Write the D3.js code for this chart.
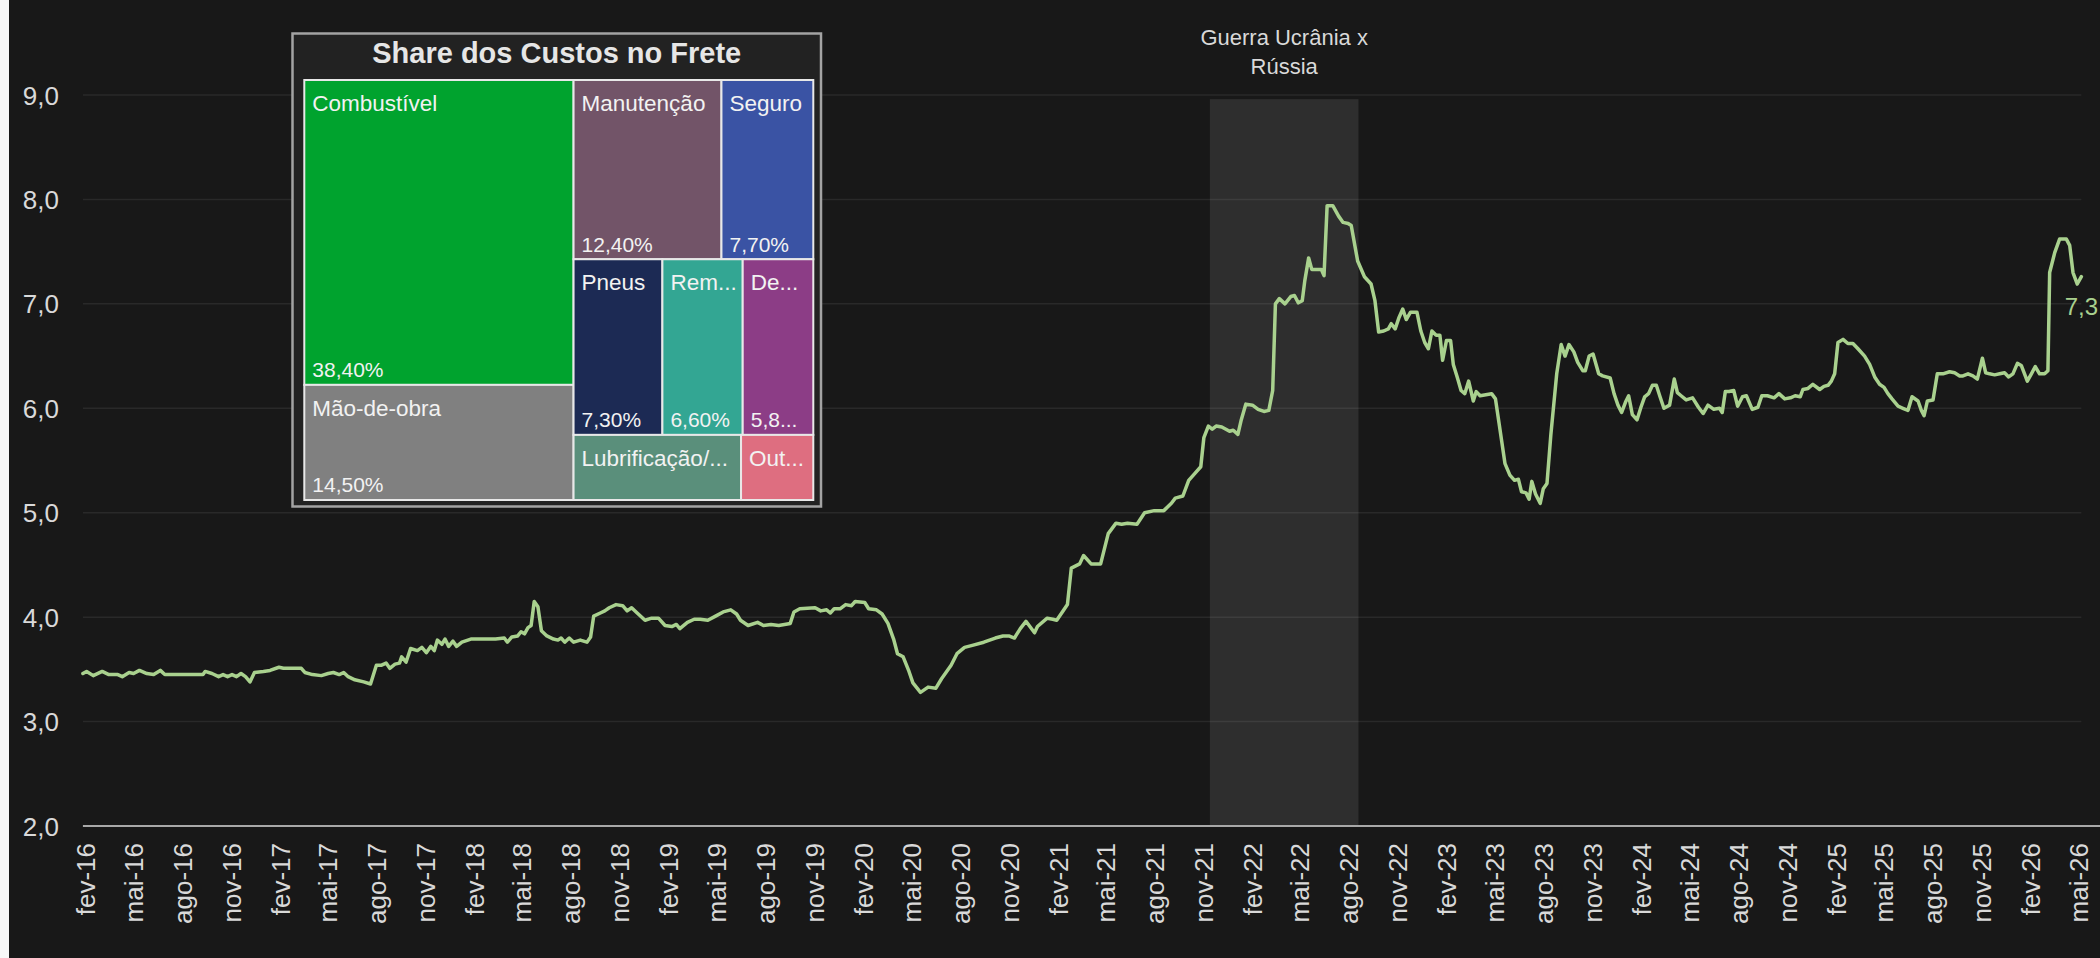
<!DOCTYPE html>
<html><head><meta charset="utf-8">
<script src="https://cdn.jsdelivr.net/npm/d3@7"></script>
<style>html,body{margin:0;padding:0;background:#181818;}svg{display:block;}</style>
</head><body><svg id="c" width="2100" height="958"></svg>
<script>
// ---------- DATA ----------
// dates as decimal years, values of the freight cost index
const dataYears = [
2016.074,2016.093,2016.127,2016.173,2016.207,2016.253,2016.276,2016.311,2016.334,2016.364,2016.402,2016.437,2016.471,2016.494,2016.600,2016.690,2016.701,2016.736,2016.770,2016.793,2016.816,2016.839,2016.862,2016.885,2016.908,2016.931,2016.954,
2017.000,2017.034,2017.080,2017.103,2017.195,2017.213,2017.252,2017.298,2017.333,2017.360,2017.390,2017.413,2017.436,2017.470,2017.516,2017.551,2017.581,2017.608,2017.631,2017.650,2017.677,2017.700,2017.711,2017.734,2017.757,2017.792,2017.815,2017.838,2017.861,2017.879,2017.895,2017.918,2017.934,2017.953,2017.975,2017.994,
2018.021,2018.067,2018.090,2018.159,2018.194,2018.239,2018.255,2018.278,2018.308,2018.325,2018.343,2018.361,2018.377,2018.393,2018.412,2018.430,2018.458,2018.492,2018.515,2018.531,2018.550,2018.573,2018.596,2018.630,2018.664,2018.683,2018.699,2018.733,2018.756,2018.779,2018.814,2018.848,2018.871,2018.894,2018.917,2018.963,2018.997,
2019.032,2019.066,2019.101,2019.124,2019.142,2019.181,2019.216,2019.247,2019.286,2019.326,2019.365,2019.404,2019.434,2019.454,2019.493,2019.542,2019.572,2019.611,2019.651,2019.710,2019.729,2019.759,2019.838,2019.867,2019.897,2019.916,2019.936,2019.966,2019.995,
2020.025,2020.044,2020.093,2020.113,2020.153,2020.182,2020.212,2020.241,2020.261,2020.290,2020.320,2020.340,2020.379,2020.418,2020.458,2020.487,2020.536,2020.566,2020.605,2020.645,2020.704,2020.763,2020.802,2020.832,2020.861,2020.891,2020.920,2020.964,2020.979,
2021.029,2021.058,2021.078,2021.107,2021.133,2021.153,2021.196,2021.216,2021.255,2021.304,2021.343,2021.383,2021.412,2021.442,2021.491,2021.530,2021.580,2021.629,2021.668,2021.688,2021.727,2021.757,2021.790,2021.819,2021.835,2021.858,2021.878,2021.898,2021.927,2021.967,2021.986,
2022.010,2022.026,2022.051,2022.085,2022.114,2022.144,2022.169,2022.189,2022.203,2022.223,2022.252,2022.282,2022.301,2022.321,2022.341,2022.354,2022.374,2022.390,2022.419,2022.439,2022.453,2022.469,2022.498,2022.528,2022.551,2022.577,2022.593,2022.626,2022.661,2022.695,2022.715,2022.734,2022.760,2022.784,2022.799,2022.819,2022.839,2022.858,2022.876,2022.898,2022.931,2022.951,2022.971,2022.990,
2023.008,2023.030,2023.049,2023.063,2023.083,2023.104,2023.118,2023.138,2023.158,2023.177,2023.197,2023.221,2023.236,2023.256,2023.315,2023.335,2023.354,2023.384,2023.409,2023.433,2023.453,2023.469,2023.492,2023.508,2023.522,2023.541,2023.565,2023.581,2023.600,2023.620,2023.650,2023.673,2023.693,2023.713,2023.738,2023.758,2023.784,2023.797,2023.817,2023.837,2023.866,2023.886,2023.925,2023.945,2023.965,2023.984,
2024.004,2024.020,2024.039,2024.063,2024.083,2024.102,2024.122,2024.142,2024.162,2024.181,2024.201,2024.230,2024.254,2024.270,2024.289,2024.315,2024.348,2024.378,2024.402,2024.427,2024.457,2024.486,2024.500,2024.516,2024.535,2024.559,2024.579,2024.604,2024.624,2024.654,2024.683,2024.703,2024.732,2024.766,2024.791,2024.821,2024.850,2024.874,2024.900,2024.914,2024.940,2024.965,
2025.000,2025.022,2025.043,2025.060,2025.077,2025.094,2025.120,2025.145,2025.171,2025.197,2025.231,2025.257,2025.283,2025.308,2025.331,2025.351,2025.372,2025.403,2025.428,2025.454,2025.475,2025.506,2025.523,2025.537,2025.554,2025.583,2025.605,2025.634,2025.668,2025.694,2025.720,2025.737,2025.763,2025.788,2025.811,2025.837,2025.854,2025.874,2025.900,2025.926,2025.951,2025.972,2025.994,
2026.017,2026.037,2026.068,2026.089,2026.109,2026.131,2026.157,2026.174,2026.183,2026.209,2026.234,2026.269,2026.286,2026.303,2026.325,2026.346
];
const dataValues = [
3.46,3.48,3.44,3.48,3.45,3.45,3.43,3.47,3.46,3.49,3.46,3.45,3.49,3.45,3.45,3.45,3.48,3.46,3.43,3.45,3.43,3.45,3.43,3.46,3.43,3.38,3.47,
3.48,3.49,3.52,3.51,3.51,3.47,3.45,3.44,3.46,3.47,3.45,3.47,3.43,3.40,3.38,3.36,3.54,3.54,3.56,3.51,3.55,3.56,3.62,3.57,3.70,3.68,3.71,3.66,3.72,3.68,3.78,3.74,3.79,3.72,3.77,3.72,
3.76,3.79,3.79,3.79,3.79,3.80,3.76,3.81,3.82,3.86,3.84,3.90,3.92,4.15,4.10,3.87,3.82,3.79,3.78,3.80,3.76,3.80,3.76,3.78,3.76,3.81,4.01,4.04,4.06,4.09,4.12,4.11,4.06,4.09,4.05,3.97,3.99,
3.99,3.92,3.91,3.93,3.89,3.95,3.98,3.98,3.97,4.01,4.05,4.07,4.03,3.97,3.92,3.95,3.92,3.93,3.92,3.94,4.05,4.08,4.09,4.06,4.07,4.04,4.08,4.08,4.12,
4.11,4.15,4.14,4.08,4.07,4.03,3.94,3.79,3.65,3.62,3.48,3.37,3.28,3.33,3.32,3.41,3.54,3.65,3.71,3.73,3.76,3.80,3.82,3.82,3.80,3.89,3.96,3.85,3.91,
3.99,3.98,3.97,4.05,4.12,4.47,4.51,4.59,4.51,4.51,4.80,4.90,4.89,4.90,4.89,5.00,5.02,5.02,5.09,5.14,5.16,5.31,5.38,5.44,5.72,5.83,5.80,5.83,5.82,5.78,5.79,
5.75,5.88,6.04,6.03,5.99,5.97,5.98,6.17,7.00,7.05,7.00,7.07,7.08,7.01,7.03,7.22,7.44,7.33,7.33,7.33,7.27,7.94,7.94,7.84,7.78,7.77,7.75,7.41,7.26,7.19,7.03,6.73,6.74,6.76,6.81,6.76,6.87,6.95,6.85,6.92,6.92,6.74,6.63,6.57,
6.74,6.70,6.70,6.46,6.65,6.65,6.42,6.30,6.17,6.14,6.26,6.07,6.16,6.12,6.14,6.09,5.85,5.47,5.36,5.31,5.32,5.20,5.19,5.13,5.30,5.18,5.09,5.23,5.28,5.75,6.33,6.61,6.50,6.61,6.54,6.44,6.36,6.36,6.50,6.52,6.33,6.31,6.29,6.14,6.03,5.96,
6.06,6.12,5.94,5.89,6.01,6.11,6.14,6.22,6.22,6.11,6.00,6.03,6.28,6.15,6.12,6.08,6.10,6.01,5.95,6.03,5.99,6.00,5.96,6.16,6.16,6.17,6.02,6.11,6.12,5.99,6.01,6.12,6.12,6.10,6.14,6.09,6.10,6.12,6.11,6.18,6.19,6.23,
6.18,6.21,6.22,6.26,6.33,6.63,6.66,6.62,6.62,6.57,6.50,6.42,6.30,6.23,6.20,6.14,6.09,6.02,6.00,5.98,6.11,6.07,5.98,5.93,6.07,6.08,6.33,6.33,6.35,6.34,6.31,6.31,6.33,6.31,6.28,6.48,6.34,6.33,6.32,6.33,6.34,6.30,6.33,
6.43,6.41,6.26,6.33,6.40,6.33,6.33,6.36,7.30,7.49,7.62,7.62,7.56,7.30,7.19,7.26
];

const yTicks = [2, 3, 4, 5, 6, 7, 8, 9];
const monthAbbr = ["jan","fev","mar","abr","mai","jun","jul","ago","set","out","nov","dez"];
const firstTick = "2016-02-01", lastTick = "2026-05-01", tickStepMonths = 3;

const bandStart = "2021-11-13", bandEnd = "2022-08-19", bandTopValue = 8.96;
const annotationLines = ["Guerra Ucrânia x", "Rússia"];

const treemapTitle = "Share dos Custos no Frete";
const costNames  = ["Combustível","Mão-de-obra","Manutenção","Seguro","Pneus","Remuneração","Depreciação","Lubrificação/Lavagem","Outros"];
const costShares = [38.4, 14.5, 12.4, 7.7, 7.3, 6.6, 5.8, 5.1, 2.2];
const costColors = ["#00a32e","#808080","#725468","#3a53a4","#1c2a54","#33a693","#8c3d86","#5a8f7b","#de6e80"];
// tiling groups: number of cells per strip and strip direction
const treemapRows = [2, 2, 3, 2];
const treemapRowDirs = ["column", "row", "row", "row"];

// ---------- SETUP ----------
const W = 2100, H = 958;
const svg = d3.select("#c");
const FONT = "'Liberation Sans', Arial, Helvetica, sans-serif";
const txt = "#d9d9d9";
const lineColor = "#a9d18e";
const parse = d3.timeParse("%Y-%m-%d");
const loc = d3.formatLocale({decimal: ",", thousands: ".", grouping: [3], currency: ["R$", ""]});
const f1 = loc.format(".1f"), f2 = loc.format(".2f");

function yearToDate(t) {
  const Y = Math.floor(t), fr = t - Y;
  const a = new Date(Y, 0, 1).getTime(), b = new Date(Y + 1, 0, 1).getTime();
  return new Date(a + fr * (b - a));
}
const series = dataYears.map((t, i) => ({date: yearToDate(t), value: dataValues[i]}));

const x = d3.scaleTime().domain([parse(firstTick), parse(lastTick)]).range([85, 2078]);
const y = d3.scaleLinear().domain([2, 9]).range([826, 95]);
const xLeft = x(series[0].date), xGridRight = x(series[series.length - 1].date);

svg.append("rect").attr("width", W).attr("height", H).attr("fill", "#181818");
svg.append("rect").attr("width", 9).attr("height", H).attr("fill", "#f7f7f7");

// band
svg.append("rect")
  .attr("x", x(parse(bandStart))).attr("width", x(parse(bandEnd)) - x(parse(bandStart)))
  .attr("y", y(bandTopValue)).attr("height", y(2) - y(bandTopValue))
  .attr("fill", "#2e2e2e");

// gridlines
svg.append("g").selectAll("line").data(yTicks.filter(v => v > 2)).join("line")
  .attr("x1", xLeft).attr("x2", xGridRight)
  .attr("y1", d => y(d)).attr("y2", d => y(d))
  .attr("stroke", "rgba(255,255,255,0.075)").attr("stroke-width", 1.5);

// base axis line
svg.append("line").attr("x1", xLeft).attr("x2", W).attr("y1", y(2)).attr("y2", y(2))
  .attr("stroke", "#a8a8a8").attr("stroke-width", 2);

// y axis
const gy = svg.append("g").attr("transform", `translate(${xLeft},0)`)
  .call(d3.axisLeft(y).tickValues(yTicks).tickSize(0).tickPadding(24).tickFormat(d => f1(d)));
gy.select(".domain").remove();
gy.selectAll("text").attr("fill", txt).attr("font-family", FONT).attr("font-size", 26).attr("dy", "0.35em");

// x axis
const tickDates = d3.timeMonth.range(parse(firstTick), d3.timeDay.offset(parse(lastTick), 1), tickStepMonths);
const gx = svg.append("g").attr("transform", `translate(0,${y(2)})`)
  .call(d3.axisBottom(x).tickValues(tickDates).tickSize(0)
    .tickFormat(d => monthAbbr[d.getMonth()] + "-" + String(d.getFullYear()).slice(2)));
gx.select(".domain").remove();
gx.selectAll("text").attr("fill", txt).attr("font-family", FONT).attr("font-size", 26)
  .attr("transform", "rotate(-90)").attr("x", -17).attr("y", 0).attr("dy", "0.35em")
  .style("text-anchor", "end");

// line
svg.append("path").datum(series)
  .attr("d", d3.line().x(d => x(d.date)).y(d => y(d.value)))
  .attr("fill", "none").attr("stroke", lineColor).attr("stroke-width", 3.5)
  .attr("stroke-linejoin", "round").attr("stroke-linecap", "round");

// last value label
const last = series[series.length - 1];
svg.append("text").attr("x", x(last.date)).attr("y", y(last.value) + 38)
  .attr("text-anchor", "middle").attr("fill", lineColor).attr("font-family", FONT).attr("font-size", 24)
  .text(f1(last.value));

// annotation
const bandCx = (x(parse(bandStart)) + x(parse(bandEnd))) / 2;
svg.append("g").selectAll("text").data(annotationLines).join("text")
  .attr("x", bandCx).attr("y", (d, i) => 45 + i * 29).attr("text-anchor", "middle")
  .attr("fill", txt).attr("font-family", FONT).attr("font-size", 22).text(d => d);

// ---------- TREEMAP ----------
const box = {x: 292.5, y: 33.5, w: 528.5, h: 473};
svg.append("rect").attr("x", box.x).attr("y", box.y).attr("width", box.w).attr("height", box.h)
  .attr("fill", "#222222").attr("stroke", "#a3a3a3").attr("stroke-width", 2.5);
svg.append("text").attr("x", box.x + box.w / 2).attr("y", 63).attr("text-anchor", "middle")
  .attr("fill", "#e6e6e6").attr("font-family", FONT).attr("font-size", 29).attr("font-weight", "bold")
  .text(treemapTitle);

function rowTile(parent, x0, y0, x1, y1) {
  const nodes = parent.children;
  let value = parent.value, i = 0;
  treemapRows.forEach((k, r) => {
    const kids = nodes.slice(i, i + k);
    if (!kids.length) return;
    const row = {value: d3.sum(kids, d => d.value), children: kids};
    if (treemapRowDirs[r] === "row") {
      const yy = y0 + (y1 - y0) * row.value / value;
      d3.treemapDice(row, x0, y0, x1, yy); y0 = yy;
    } else {
      const xx = x0 + (x1 - x0) * row.value / value;
      d3.treemapSlice(row, x0, y0, xx, y1); x0 = xx;
    }
    value -= row.value; i += k;
  });
}
const root = d3.hierarchy({children: costNames.map((n, i) => ({name: n, share: costShares[i], color: costColors[i]}))})
  .sum(d => d.share || 0).sort((a, b) => b.value - a.value);
d3.treemap().size([509, 420]).tile(rowTile)(root);

const tm = svg.append("g").attr("transform", "translate(304.3,80)");
const cells = tm.selectAll("g").data(root.leaves()).join("g")
  .attr("transform", d => `translate(${d.x0},${d.y0})`);
cells.append("rect").attr("width", d => d.x1 - d.x0).attr("height", d => d.y1 - d.y0)
  .attr("fill", d => d.data.color).attr("stroke", "#e8e8e8").attr("stroke-width", 2);

function fitText(sel, text, maxW) {
  sel.text(text);
  if (sel.node().getComputedTextLength() <= maxW) return;
  let s = text;
  while (s.length > 1) {
    s = s.slice(0, -1);
    sel.text(s + "...");
    if (sel.node().getComputedTextLength() <= maxW) return;
  }
}
cells.each(function(d) {
  const g = d3.select(this), w = d.x1 - d.x0, h = d.y1 - d.y0;
  const t1 = g.append("text").attr("x", 8).attr("y", 31).attr("fill", "#f2f2f2")
    .attr("font-family", FONT).attr("font-size", 22.5);
  fitText(t1, d.data.name, w - 12.5);
  if (h >= 80) {
    const t2 = g.append("text").attr("x", 8).attr("y", h - 7.5).attr("fill", "#f2f2f2")
      .attr("font-family", FONT).attr("font-size", 21);
    fitText(t2, f2(d.data.share) + "%", w - 13);
  }
});
</script>
</body></html>
